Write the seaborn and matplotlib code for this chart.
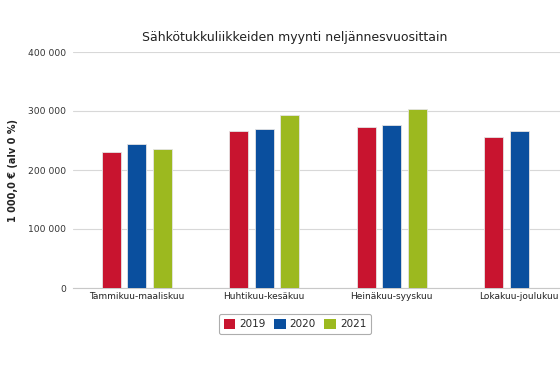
import matplotlib
matplotlib.use("Agg")
import matplotlib.pyplot as plt
import matplotlib.ticker as mticker
import pandas as pd
import seaborn as sns

neljannekset = ["Tammikuu-maaliskuu", "Huhtikuu-kesäkuu", "Heinäkuu-syyskuu", "Lokakuu-joulukuu"]
vuodet = ["2019", "2020", "2021"]
myynti_2019 = [231000, 266000, 273000, 256000]
myynti_2020 = [244500, 269000, 276000, 266000]
myynti_2021 = [236000, 294000, 304000, None]
varit = ["#c8142f", "#0a4f9e", "#9cb91f"]

sns.set_theme(style="white")
plt.rcParams["font.family"] = ["DejaVu Sans"]

rivit = []
for vuosi, arvot in zip(vuodet, [myynti_2019, myynti_2020, myynti_2021]):
    for q, v in zip(neljannekset, arvot):
        rivit.append({"Neljännes": q, "Vuosi": vuosi, "Myynti": v})
df = pd.DataFrame(rivit)

fig = plt.figure(figsize=(5.6, 3.66), dpi=100)
ax = fig.add_axes([73 / 560, 1 - 288 / 366, 510 / 560, 236 / 366])

sns.barplot(data=df, x="Neljännes", y="Myynti", hue="Vuosi", order=neljannekset,
            hue_order=vuodet, palette=varit, saturation=1, width=0.6, gap=0.25, ax=ax,
            edgecolor="#e4e4e4", linewidth=0.6, zorder=3)

ax.set_ylim(0, 400000)
ax.set_yticks([0, 100000, 200000, 300000, 400000])
ax.yaxis.set_major_formatter(mticker.FuncFormatter(lambda v, p: f"{int(v):,}".replace(",", " ")))
ax.grid(axis="y", color="#d8d8d8", linewidth=0.8, zorder=0)
for s in ["left", "right", "top"]:
    ax.spines[s].set_visible(False)
ax.spines["bottom"].set_color("#c8c8c8")
ax.spines["bottom"].set_linewidth(0.8)

ax.tick_params(axis="y", length=0, labelsize=6.6, colors="#333333", pad=5)
ax.tick_params(axis="x", length=0, labelsize=6.5, colors="#222222", pad=3)
ax.set_xticks(range(len(neljannekset)))
ax.set_xticklabels(neljannekset)
ax.set_xticks([0.5, 1.5, 2.5], minor=True)
ax.tick_params(axis="x", which="minor", length=4, color="#c8c8c8", width=0.8)

ax.set_xlabel("")
ax.set_ylabel("1 000,0 € (alv 0 %)", fontsize=7, fontweight="bold", color="#222222", labelpad=7)

fig.text(295 / 560, 1 - 37 / 366, "Sähkötukkuliikkeiden myynti neljännesvuosittain",
         ha="center", va="center", fontsize=9, color="#222222")

leg = ax.legend(loc="center", bbox_to_anchor=(295 / 560, 1 - 324 / 366),
                bbox_transform=fig.transFigure, ncol=3, frameon=True, fontsize=7.5,
                handlelength=1.1, handleheight=1.1, handletextpad=0.4, columnspacing=0.8,
                borderpad=0.5, fancybox=True)
leg.get_frame().set_edgecolor("#999999")
leg.get_frame().set_linewidth(0.8)
for h in leg.legend_handles:
    h.set_edgecolor("none")

fig.savefig("out.png", dpi=100)
